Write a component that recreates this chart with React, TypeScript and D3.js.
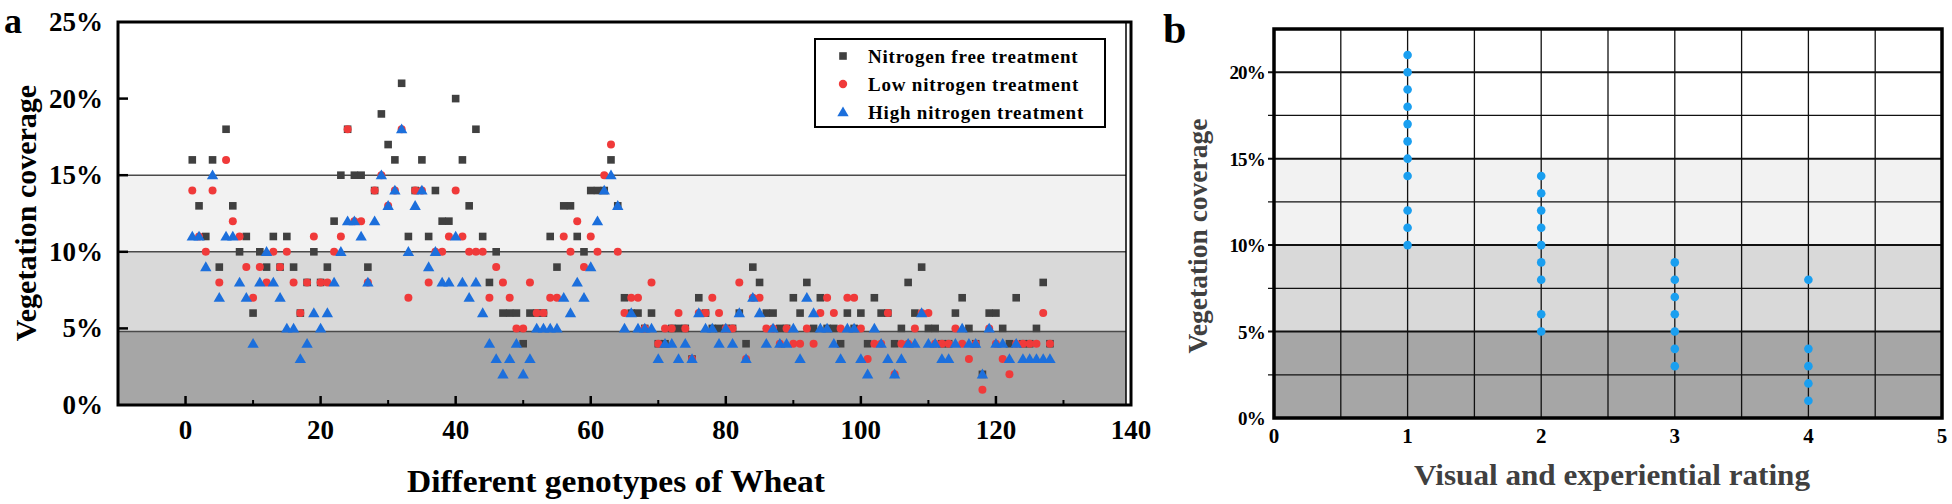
import * as d3 from 'd3'

// Vegetation coverage (%) for genotypes 1..128
const nitrogenFree = [
  16, 13, 11, 16, 9, 18, 13, 10, 11, 6,
  10, 9, 11, 9, 11, 9, 6, 8, 10, 8,
  9, 12, 15, 18, 15, 15, 9, 14, 19, 17,
  16, 21, 11, 14, 16, 11, 14, 12, 12, 20,
  16, 13, 18, 11, 8, 10, 6, 6, 6, 4,
  6, 6, 6, 11, 9, 13, 13, 11, 10, 14,
  14, 14, 16, 13, 7, 6, 6, 5, 6, 4,
  4, 5, 5, 5, 3, 7, 6, 5, 5, 5,
  5, 6, 4, 9, 8, 6, 6, 5, 5, 7,
  6, 8, 5, 7, 5, 5, 4, 6, 5, 6,
  4, 7, 6, 6, 4, 5, 8, 6, 9, 5,
  5, 4, 4, 6, 7, 5, 4, 2, 6, 6,
  5, 4, 7, 4, 4, 5, 8, 4,
]
const lowNitrogen = [
  14, 11, 10, 14, 8, 16, 12, 11, 9, 7,
  9, 8, 10, 9, 10, 8, 6, 8, 11, 8,
  8, 10, 11, 18, 12, 12, 8, 14, 15, 13,
  14, 18, 7, 14, 14, 8, 10, 10, 11, 14,
  11, 10, 10, 10, 7, 9, 8, 7, 5, 5,
  8, 6, 6, 7, 7, 11, 10, 12, 9, 11,
  10, 15, 17, 10, 6, 7, 7, 5, 8, 4,
  5, 5, 6, 5, 3, 6, 6, 7, 6, 5,
  5, 8, 3, 7, 7, 5, 5, 4, 5, 4,
  4, 5, 4, 6, 7, 6, 5, 7, 7, 5,
  3, 4, 4, 6, 2, 4, 4, 5, 6, 6,
  4, 4, 4, 5, 4, 3, 4, 1, 5, 4,
  3, 2, 4, 4, 4, 4, 6, 4,
]
const highNitrogen = [
  11, 11, 9, 15, 7, 11, 11, 8, 7, 4,
  8, 10, 8, 7, 5, 5, 3, 4, 6, 5,
  6, 8, 10, 12, 12, 11, 8, 12, 15, 13,
  14, 18, 10, 13, 14, 9, 10, 8, 8, 11,
  8, 7, 8, 6, 4, 3, 2, 3, 4, 2,
  3, 5, 5, 5, 5, 7, 6, 8, 7, 9,
  12, 14, 15, 13, 5, 6, 5, 5, 5, 3,
  4, 4, 3, 4, 3, 6, 5, 5, 4, 5,
  4, 6, 3, 7, 6, 4, 5, 4, 4, 5,
  3, 7, 6, 5, 5, 4, 3, 5, 5, 3,
  2, 5, 4, 3, 2, 3, 4, 4, 6, 4,
  4, 3, 3, 4, 5, 4, 4, 2, 5, 4,
  4, 3, 4, 3, 3, 3, 3, 3,
]

const legendLabels = ['Nitrogen free treatment', 'Low nitrogen treatment', 'High nitrogen treatment']
const xTicksA = [0, 20, 40, 60, 80, 100, 120, 140]
const yTicksA = [0, 5, 10, 15, 20, 25]

// panel b: rating -> coverage values
const ratings = [1, 2, 3, 4]
const ratingValues = [
  [10, 11, 12, 14, 15, 16, 17, 18, 19, 20, 21],
  [5, 6, 8, 9, 10, 11, 12, 13, 14],
  [3, 4, 5, 6, 7, 8, 9],
  [1, 2, 3, 4, 8],
]
const xTicksB = [0, 1, 2, 3, 4, 5]
const yTicksB = [0, 5, 10, 15, 20]

const FONT = '"Liberation Serif", "Times New Roman", serif'
const C_SQ = '#404040'
const C_CI = '#f03a3a'
const C_TR = '#1c6fdc'
const C_DOT = '#1a9ff0'

const bands = [
  { lo: 0, hi: 4.8, fill: '#a6a6a6' },
  { lo: 4.8, hi: 10, fill: '#d9d9d9' },
  { lo: 10, hi: 15, fill: '#f2f2f2' },
]

function PanelA() {
  const x = d3.scaleLinear().domain([-10, 140]).range([118, 1131])
  const y = d3.scaleLinear().domain([0, 25]).range([405, 22])
  const innerRight = 1126
  const genotypes = nitrogenFree.map((_, i) => i + 1)
  const tri = d3.symbol().type(d3.symbolTriangle).size(56)()
  const minor = d3.range(-10, 141, 10).filter(v => v % 20 !== 0 && v > -10 && v < 140)

  return (
    <g>
      {bands.map(b => (
        <rect key={b.lo} x={x(-10)} y={y(b.hi)} width={innerRight - x(-10)} height={y(b.lo) - y(b.hi)} fill={b.fill} />
      ))}
      {[4.8, 10, 15].map(v => (
        <line key={v} x1={x(-10)} x2={innerRight} y1={y(v)} y2={y(v)} stroke="#4a4a4a" strokeWidth={1.5} />
      ))}

      {genotypes.map((g, i) => (
        <rect key={'s' + g} x={x(g) - 3.8} y={y(nitrogenFree[i]) - 3.8} width={7.6} height={7.6} fill={C_SQ} />
      ))}
      {genotypes.map((g, i) => (
        <circle key={'c' + g} cx={x(g)} cy={y(lowNitrogen[i])} r={4} fill={C_CI} />
      ))}
      {genotypes.map((g, i) => (
        <path key={'t' + g} d={tri} transform={`translate(${x(g)},${y(highNitrogen[i]) + 0.8})`} fill={C_TR} />
      ))}

      {/* axes frame */}
      <rect x={x(-10)} y={y(25)} width={x(140) - x(-10)} height={y(0) - y(25)} fill="none" stroke="#000" strokeWidth={3} />
      <line x1={innerRight} x2={innerRight} y1={y(25)} y2={y(0)} stroke="#000" strokeWidth={1.5} />

      {xTicksA.map(t => (
        <g key={t}>
          {t > -10 && t < 140 && <line x1={x(t)} x2={x(t)} y1={y(0)} y2={y(0) - 9} stroke="#000" strokeWidth={2.5} />}
          <text x={x(t)} y={y(0) + 34} textAnchor="middle" fontSize={27} fontWeight="bold" fontFamily={FONT}>{t}</text>
        </g>
      ))}
      {minor.map(t => (
        <line key={t} x1={x(t)} x2={x(t)} y1={y(0)} y2={y(0) - 5} stroke="#000" strokeWidth={2} />
      ))}
      {yTicksA.map(t => (
        <g key={t}>
          {t > 0 && t < 25 && <line x1={x(-10)} x2={x(-10) + 10} y1={y(t)} y2={y(t)} stroke="#000" strokeWidth={2.5} />}
          <text x={103} y={y(t) + 9} textAnchor="end" fontSize={27} fontWeight="bold" fontFamily={FONT}>{d3.format('d')(t)}%</text>
        </g>
      ))}

      <text transform={`translate(36,${213}) rotate(-90)`} textAnchor="middle" fontSize={30} fontWeight="bold" fontFamily={FONT}>
        Vegetation coverage
      </text>
      <text x={616} y={492} textAnchor="middle" fontSize={31} fontWeight="bold" fontFamily={FONT} textLength={418} lengthAdjust="spacingAndGlyphs">
        Different genotypes of Wheat
      </text>
      <text x={4} y={33} fontSize={36} fontWeight="bold" fontFamily={FONT}>a</text>

      {/* legend */}
      <rect x={815} y={39} width={290} height={88} fill="#fff" stroke="#000" strokeWidth={2} />
      {legendLabels.map((l, i) => {
        const ly = 56 + i * 28
        return (
          <g key={l}>
            {i === 0 && <rect x={843 - 3.8} y={ly - 3.8} width={7.6} height={7.6} fill={C_SQ} />}
            {i === 1 && <circle cx={843} cy={ly} r={4.2} fill={C_CI} />}
            {i === 2 && <path d={tri} transform={`translate(843,${ly + 1})`} fill={C_TR} />}
            <text x={868} y={ly + 7} fontSize={19} fontWeight="bold" fontFamily={FONT} letterSpacing={0.8}>{l}</text>
          </g>
        )
      })}
    </g>
  )
}

function PanelB() {
  const x = d3.scaleLinear().domain([0, 5]).range([1274, 1942])
  const y = d3.scaleLinear().domain([0, 22.5]).range([418, 29])
  const hGrid = d3.range(2.5, 22.5, 2.5)
  const vGrid = d3.range(0.5, 5, 0.5)
  const bandsB = [
    { lo: 0, hi: 5, fill: '#a6a6a6' },
    { lo: 5, hi: 10, fill: '#d9d9d9' },
    { lo: 10, hi: 15, fill: '#f2f2f2' },
  ]
  return (
    <g>
      {bandsB.map(b => (
        <rect key={b.lo} x={x(0)} y={y(b.hi)} width={x(5) - x(0)} height={y(b.lo) - y(b.hi)} fill={b.fill} />
      ))}
      {hGrid.map(v => (
        <line key={v} x1={x(0) - 6} x2={x(5)} y1={y(v)} y2={y(v)} stroke="#111" strokeWidth={v % 5 === 0 ? 2 : 1.3} />
      ))}
      {vGrid.map(v => (
        <line key={v} x1={x(v)} x2={x(v)} y1={y(22.5)} y2={y(0)} stroke="#111" strokeWidth={1.3} />
      ))}
      {ratings.map((r, i) =>
        ratingValues[i].map(v => <circle key={r + '-' + v} cx={x(r)} cy={y(v)} r={4.3} fill={C_DOT} />)
      )}
      <rect x={x(0)} y={y(22.5)} width={x(5) - x(0)} height={y(0) - y(22.5)} fill="none" stroke="#000" strokeWidth={3.5} />

      {yTicksB.map(t => (
        <text key={t} x={1265} y={y(t) + 7} textAnchor="end" fontSize={19} fontWeight="bold" fontFamily={FONT} letterSpacing={-0.8}>{t}%</text>
      ))}
      {xTicksB.map(t => (
        <text key={t} x={x(t)} y={443} textAnchor="middle" fontSize={21} fontWeight="bold" fontFamily={FONT}>{t}</text>
      ))}
      <text transform={`translate(1207,236) rotate(-90)`} textAnchor="middle" fontSize={27} fontWeight="bold" fill="#404040" fontFamily={FONT} textLength={235} lengthAdjust="spacingAndGlyphs">
        Vegetation coverage
      </text>
      <text x={1612} y={485} textAnchor="middle" fontSize={29} fontWeight="bold" fill="#404040" fontFamily={FONT} textLength={396} lengthAdjust="spacingAndGlyphs">
        Visual and experiential rating
      </text>
      <text x={1163} y={43} fontSize={42} fontWeight="bold" fontFamily={FONT}>b</text>
    </g>
  )
}

export default function App() {
  return (
    <svg width={1952} height={504} style={{ position: 'absolute', left: 0, top: 0, background: '#fff' }}>
      <PanelA />
      <PanelB />
    </svg>
  )
}
